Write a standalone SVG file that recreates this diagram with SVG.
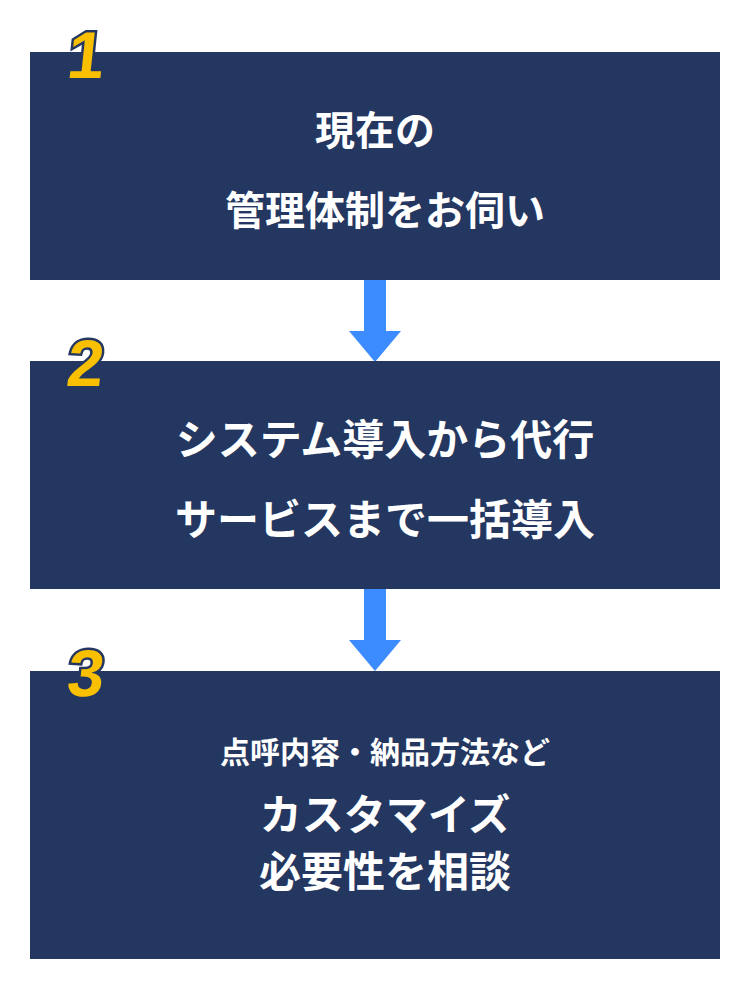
<svg xmlns="http://www.w3.org/2000/svg" width="750" height="1000" viewBox="0 0 750 1000">
<style>
.box{fill:#243761}
.t{fill:#fff;font-family:"Noto Sans CJK JP",sans-serif;font-weight:700;text-anchor:middle}
.n{fill:#f8c000;stroke:#243761;stroke-width:5;paint-order:stroke;font-family:"Liberation Sans",sans-serif;font-weight:700;font-size:66px;text-anchor:middle}
.ar{fill:#3c8cff}
</style>
<g id="connectors">
<polygon class="ar" points="364,280 386,280 386,331 401,331 375,362 349,331 364,331"/>
<polygon class="ar" points="364,589 386,589 386,640 401,640 375,671 349,640 364,640"/>
</g>
<g id="node1">
<rect class="box" x="30" y="52" width="690" height="228"/>
<text class="t" x="375" y="145" font-size="40">現在の</text>
<text class="t" x="385" y="225" font-size="40">管理体制をお伺い</text>
<text class="n" x="84" y="78" transform="skewX(-6) translate(8,0)">1</text>
</g>
<g id="node2">
<rect class="box" x="30" y="361" width="690" height="228"/>
<text class="t" x="385" y="455" font-size="42">システム導入から代行</text>
<text class="t" x="385" y="535" font-size="42">サービスまで一括導入</text>
<text class="n" x="84" y="386" transform="skewX(-6) translate(40,0)">2</text>
</g>
<g id="node3">
<rect class="box" x="30" y="671" width="690" height="288"/>
<text class="t" x="385" y="763" font-size="30">点呼内容・納品方法など</text>
<text class="t" x="385" y="830" font-size="42">カスタマイズ</text>
<text class="t" x="385" y="887" font-size="42">必要性を相談</text>
<text class="n" x="84" y="696" transform="skewX(-6) translate(73,0)">3</text>
</g>
</svg>
